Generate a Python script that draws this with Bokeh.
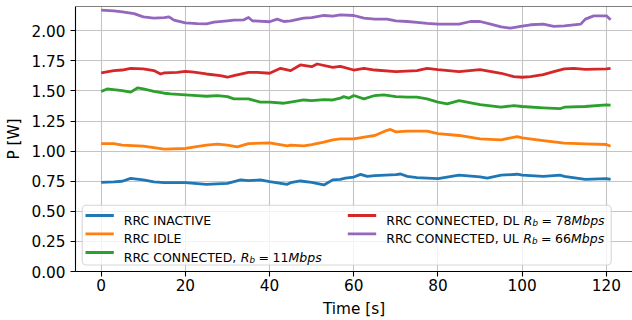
from bokeh.plotting import figure
from bokeh.models import Range1d, FixedTicker, PrintfTickFormatter, Span, BoxAnnotation, Label
from bokeh.embed import file_html
from bokeh.resources import INLINE

# ---------------- data ----------------
t_inactive = [0, 3, 5, 7, 10, 12.5, 15, 20, 25, 30, 33.1, 35, 37.8, 40, 44.2, 45, 47.3, 50, 52.9, 55,
              56.8, 58, 60, 61.6, 63.2, 65, 70, 71.1, 72.7, 75, 80, 85, 90, 91.7, 95, 98.8, 100, 105,
              109.1, 110, 115, 120, 121]
p_inactive = [0.740, 0.745, 0.750, 0.774, 0.761, 0.745, 0.738, 0.738, 0.724, 0.733, 0.761, 0.755, 0.761,
              0.747, 0.724, 0.738, 0.752, 0.740, 0.719, 0.761, 0.765, 0.775, 0.785, 0.807, 0.790, 0.797,
              0.805, 0.810, 0.790, 0.780, 0.772, 0.800, 0.786, 0.776, 0.800, 0.808, 0.800, 0.790, 0.800,
              0.790, 0.765, 0.772, 0.765]

t_idle = [0, 3, 5, 10, 15, 20, 25, 27.6, 30, 32.3, 35, 40, 44.2, 45, 48.1, 50, 52.9, 55, 56.8, 60, 63.2,
          65, 67.9, 68.7, 70, 72.7, 75, 77.4, 80, 85, 90, 95, 98.8, 100, 105, 110, 115, 120, 121]
p_idle = [1.063, 1.063, 1.050, 1.042, 1.017, 1.022, 1.050, 1.058, 1.050, 1.036, 1.063, 1.069, 1.044, 1.050,
          1.044, 1.055, 1.075, 1.094, 1.102, 1.102, 1.121, 1.130, 1.173, 1.180, 1.160, 1.166, 1.166, 1.166,
          1.146, 1.130, 1.102, 1.094, 1.121, 1.110, 1.088, 1.066, 1.060, 1.055, 1.040]

t_conn = [0, 1.4, 5, 7, 8.6, 10, 12.5, 15, 16.5, 20, 22.8, 25, 27.6, 30, 31.5, 35, 37.8, 40, 43.4, 45, 48.1,
          50, 52.9, 55, 56.8, 57.6, 58.8, 60, 62.4, 65, 67.1, 70, 72.7, 75, 77.4, 80, 82.2, 85, 90, 95, 98,
          100, 105, 109.1, 110, 115, 120, 121]
p_conn = [1.495, 1.517, 1.503, 1.490, 1.525, 1.517, 1.497, 1.481, 1.475, 1.467, 1.461, 1.456, 1.461, 1.453,
          1.434, 1.434, 1.407, 1.407, 1.398, 1.407, 1.425, 1.420, 1.428, 1.425, 1.440, 1.453, 1.440, 1.462,
          1.434, 1.462, 1.467, 1.453, 1.448, 1.448, 1.434, 1.407, 1.393, 1.420, 1.387, 1.365, 1.379, 1.371,
          1.360, 1.354, 1.365, 1.371, 1.385, 1.382]

t_dl = [0, 3, 5, 7, 10, 12.5, 14.1, 15, 18.1, 20, 22, 25, 28.3, 30, 31.5, 35, 37.1, 40, 42.6, 45, 47.3, 50,
        51.3, 55, 56.8, 60, 62.4, 65, 70, 75, 77.4, 80, 85, 90, 95, 98, 100, 102, 105, 107.5, 110, 112.3,
        115, 120, 121]
p_dl = [1.650, 1.669, 1.674, 1.688, 1.683, 1.669, 1.641, 1.650, 1.655, 1.663, 1.657, 1.641, 1.627, 1.614,
        1.627, 1.655, 1.655, 1.647, 1.688, 1.669, 1.716, 1.702, 1.724, 1.696, 1.705, 1.674, 1.688, 1.674,
        1.660, 1.669, 1.688, 1.677, 1.660, 1.677, 1.647, 1.619, 1.614, 1.619, 1.636, 1.660, 1.683, 1.688,
        1.680, 1.683, 1.688]

t_ul = [0, 3, 5, 7.8, 10, 12.5, 15, 16.1, 17.3, 20, 22.8, 25, 26.8, 30, 31.5, 33.9, 35, 35.9, 40, 41.8, 43.4,
        45, 48.1, 50, 52.9, 55, 56.8, 60, 62.4, 65, 67.9, 70, 72.7, 75, 77.4, 80, 83, 85, 87.7, 90, 92.5, 95,
        97.2, 100, 102, 105, 107.5, 110, 113.9, 115, 117, 120, 121]
p_ul = [2.171, 2.166, 2.157, 2.143, 2.116, 2.105, 2.110, 2.116, 2.088, 2.066, 2.060, 2.058, 2.072, 2.083,
        2.088, 2.091, 2.110, 2.083, 2.075, 2.097, 2.077, 2.083, 2.105, 2.110, 2.127, 2.121, 2.132, 2.127,
        2.105, 2.097, 2.097, 2.083, 2.077, 2.069, 2.061, 2.055, 2.055, 2.055, 2.077, 2.077, 2.055, 2.033,
        2.022, 2.039, 2.050, 2.055, 2.036, 2.041, 2.055, 2.097, 2.124, 2.124, 2.091]

series_prefix = ["RRC INACTIVE", "RRC IDLE", "RRC CONNECTED,", "RRC CONNECTED, DL", "RRC CONNECTED, UL"]
series_rate = [None, None, "11", "78", "66"]
colors = ["#1f77b4", "#ff7f0e", "#2ca02c", "#d62728", "#9467bd"]

x_ticks = [0, 20, 40, 60, 80, 100, 120]
y_ticks = [0.0, 0.25, 0.5, 0.75, 1.0, 1.25, 1.5, 1.75, 2.0]
x_title = "Time [s]"
y_title = "P [W]"

FONT = "DejaVu Sans"
TICK_FS = "15.3px"
LEG_FS = 12.5

# ---------------- figure ----------------
YMAX = 2.2017
p = figure(width=632, height=320, x_range=Range1d(-6.1, 126.2), y_range=Range1d(0, YMAX),
           output_backend="svg", toolbar_location=None,
           min_border_left=75, min_border_right=0, min_border_top=6, min_border_bottom=49)
p.outline_line_color = None
p.background_fill_color = "white"
p.border_fill_color = "white"

for ax in (p.xaxis[0], p.yaxis[0]):
    ax.axis_line_color = "black"
    ax.axis_line_width = 1.1
    ax.major_tick_line_color = "black"
    ax.major_tick_line_width = 1.1
    ax.major_tick_out = 5
    ax.major_tick_in = 0
    ax.minor_tick_line_color = None
    ax.major_label_text_font = FONT
    ax.major_label_text_font_size = TICK_FS
    ax.major_label_text_color = "black"
    ax.axis_label_text_font = FONT
    ax.axis_label_text_font_size = TICK_FS
    ax.axis_label_text_font_style = "normal"
    ax.axis_label_text_color = "black"

p.xaxis[0].ticker = FixedTicker(ticks=x_ticks)
p.yaxis[0].ticker = FixedTicker(ticks=y_ticks)
p.yaxis[0].formatter = PrintfTickFormatter(format="%.2f")
p.xaxis[0].axis_label = x_title
p.yaxis[0].axis_label = y_title
p.xaxis[0].major_label_standoff = 2
p.xaxis[0].axis_label_standoff = 6
p.yaxis[0].major_label_standoff = 5
p.yaxis[0].axis_label_standoff = 5

for g in (p.xgrid[0], p.ygrid[0]):
    g.grid_line_color = "#c4c4c4"
    g.grid_line_width = 1.1

p.add_layout(Span(location=YMAX, dimension="width", line_color="black", line_width=1.1))

all_t = [t_inactive, t_idle, t_conn, t_dl, t_ul]
all_p = [p_inactive, p_idle, p_conn, p_dl, p_ul]
for t, v, c in zip(all_t, all_p, colors):
    p.line(t, v, line_color=c, line_width=2.8, line_join="round")

# ---------------- legend (drawn by hand to allow math-style labels) ----------------
W = {' ': 651, ',': 651, 'R': 1423, 'C': 1430, 'O': 1612, 'N': 1532, 'E': 1294, 'T': 1251, 'D': 1577,
     'U': 1499, 'L': 1141, 'I': 604, 'A': 1401, 'V': 1401, '=': 1716, 'b': 1300, 'M': 1767, 'p': 1300,
     's': 1067}


def tw(s, fs):
    return sum(W.get(ch, 1303) for ch in s) / 2048.0 * fs


p.add_layout(BoxAnnotation(left=6.7, right=535.7, bottom=6.5, top=66.3,
                           left_units="screen", right_units="screen",
                           top_units="screen", bottom_units="screen",
                           fill_color="white", fill_alpha=0.8,
                           line_color="#cccccc", line_alpha=0.8, line_width=1.1,
                           border_radius=4))

row_y = [56.0, 37.6, 19.0]
col_handle = [(10.0, 38.3), (272.3, 300.7)]
col_text = [48.3, 310.7]
slots = [(0, 0), (0, 1), (0, 2), (1, 0), (1, 1)]


def add_text(x, y, txt, italic=False, fs=LEG_FS):
    p.add_layout(Label(x=x, y=y, x_units="screen", y_units="screen", text=txt,
                       text_font=FONT, text_font_size=f"{fs}px",
                       text_font_style="italic" if italic else "normal",
                       text_color="black", text_baseline="alphabetic", text_align="left"))


for (col, row), name, rate, c in zip(slots, series_prefix, series_rate, colors):
    yc = row_y[row]
    h0, h1 = col_handle[col]
    p.add_layout(BoxAnnotation(left=h0, right=h1, bottom=yc - 1.4, top=yc + 1.4,
                               left_units="screen", right_units="screen",
                               top_units="screen", bottom_units="screen",
                               fill_color=c, fill_alpha=1.0, line_color=None))
    yb = yc - 0.365 * LEG_FS
    x = col_text[col]
    add_text(x, yb, name)
    if rate:
        x += tw(name + " ", LEG_FS)
        add_text(x, yb, "R", italic=True)
        x += tw("R", LEG_FS)
        add_text(x, yb - 2.6, "b", italic=True, fs=round(LEG_FS * 0.7, 2))
        x += tw("b", LEG_FS * 0.7) + 0.28 * LEG_FS
        add_text(x, yb, "=")
        x += tw("=", LEG_FS) + 0.28 * LEG_FS
        add_text(x, yb, rate)
        x += tw(rate, LEG_FS)
        add_text(x, yb, "Mbps", italic=True)

open("out.html", "w").write(file_html(p, INLINE))
